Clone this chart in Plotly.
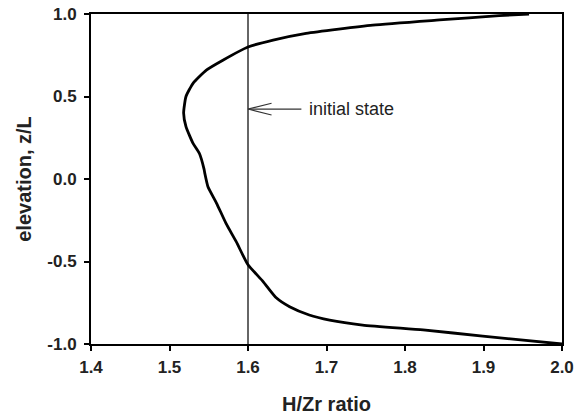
import plotly.graph_objects as go

# H/Zr ratio profile vs elevation
hz_ratio = [2.000, 1.899, 1.823, 1.746, 1.704, 1.678, 1.653, 1.636, 1.619, 1.600,
            1.585, 1.572, 1.560, 1.549, 1.545, 1.544, 1.538, 1.530, 1.521, 1.518,
            1.521, 1.530, 1.547, 1.568, 1.600, 1.632, 1.674, 1.759, 1.844,
            1.920, 1.958]
elevation = [-1.000, -0.952, -0.915, -0.885, -0.855, -0.824, -0.774, -0.720, -0.620, -0.520,
             -0.380, -0.269, -0.147, -0.047, 0.034, 0.060, 0.156, 0.216, 0.317, 0.400,
             0.500, 0.580, 0.660, 0.720, 0.800, 0.842, 0.883, 0.933, 0.964,
             0.990, 1.000]

initial_ratio = 1.6
initial_label = "initial state"
label_elev = 0.424

x_ticks = [1.4, 1.5, 1.6, 1.7, 1.8, 1.9, 2.0]
x_labels = ["1.4", "1.5", "1.6", "1.7", "1.8", "1.9", "2.0"]
y_ticks = [-1.0, -0.5, 0.0, 0.5, 1.0]
y_labels = ["-1.0", "-0.5", "0.0", "0.5", "1.0"]

FONT = "Arial, 'Liberation Sans', sans-serif"

fig = go.Figure()
fig.add_trace(go.Scatter(x=[initial_ratio, initial_ratio], y=[-1, 1], mode="lines",
                         line=dict(color="#333333", width=1.5), showlegend=False,
                         hoverinfo="skip"))
fig.add_trace(go.Scatter(x=hz_ratio, y=elevation, mode="lines",
                         line=dict(color="black", width=2.8, shape="spline", smoothing=0.5),
                         showlegend=False))

# arrow pointing to the initial-state line (open head drawn with lines)
fig.add_shape(type="line", xref="x", yref="y", x0=initial_ratio, y0=label_elev,
              x1=initial_ratio + 0.068, y1=label_elev, line=dict(color="#333333", width=1.2))
fig.add_shape(type="path", xref="x", yref="y",
              path=f"M {initial_ratio+0.030},{label_elev+0.035} L {initial_ratio},{label_elev} L {initial_ratio+0.030},{label_elev-0.036}",
              line=dict(color="#333333", width=1.2))
fig.add_annotation(x=initial_ratio + 0.075, y=label_elev, text=initial_label, showarrow=False,
                   xanchor="left", yanchor="middle", font=dict(family=FONT, size=18, color="#222222"))

axis_common = dict(showgrid=False, zeroline=False, showline=True, linecolor="black",
                   linewidth=2, mirror=True, ticks="outside", ticklen=5, tickwidth=1.5,
                   tickcolor="black", automargin=False,
                   tickfont=dict(family=FONT, size=17, color="#222222", weight="bold"))

fig.update_xaxes(range=[1.4, 2.0], tickvals=x_ticks, ticktext=x_labels, ticklabelstandoff=2,
                 title=dict(text="H/Zr ratio", font=dict(family=FONT, size=20, color="#222222", weight="bold"),
                            standoff=21),
                 **axis_common)
fig.update_yaxes(range=[-1.0, 1.0], tickvals=y_ticks, ticktext=y_labels, ticklabelstandoff=4,
                 title=dict(text="elevation, z/L", font=dict(family=FONT, size=20, color="#222222", weight="bold"),
                            standoff=10),
                 **axis_common)

fig.update_layout(width=587, height=416, margin=dict(l=91, r=25, t=14, b=72),
                  plot_bgcolor="white", paper_bgcolor="white",
                  font=dict(family=FONT))

fig.write_html("out.html")
